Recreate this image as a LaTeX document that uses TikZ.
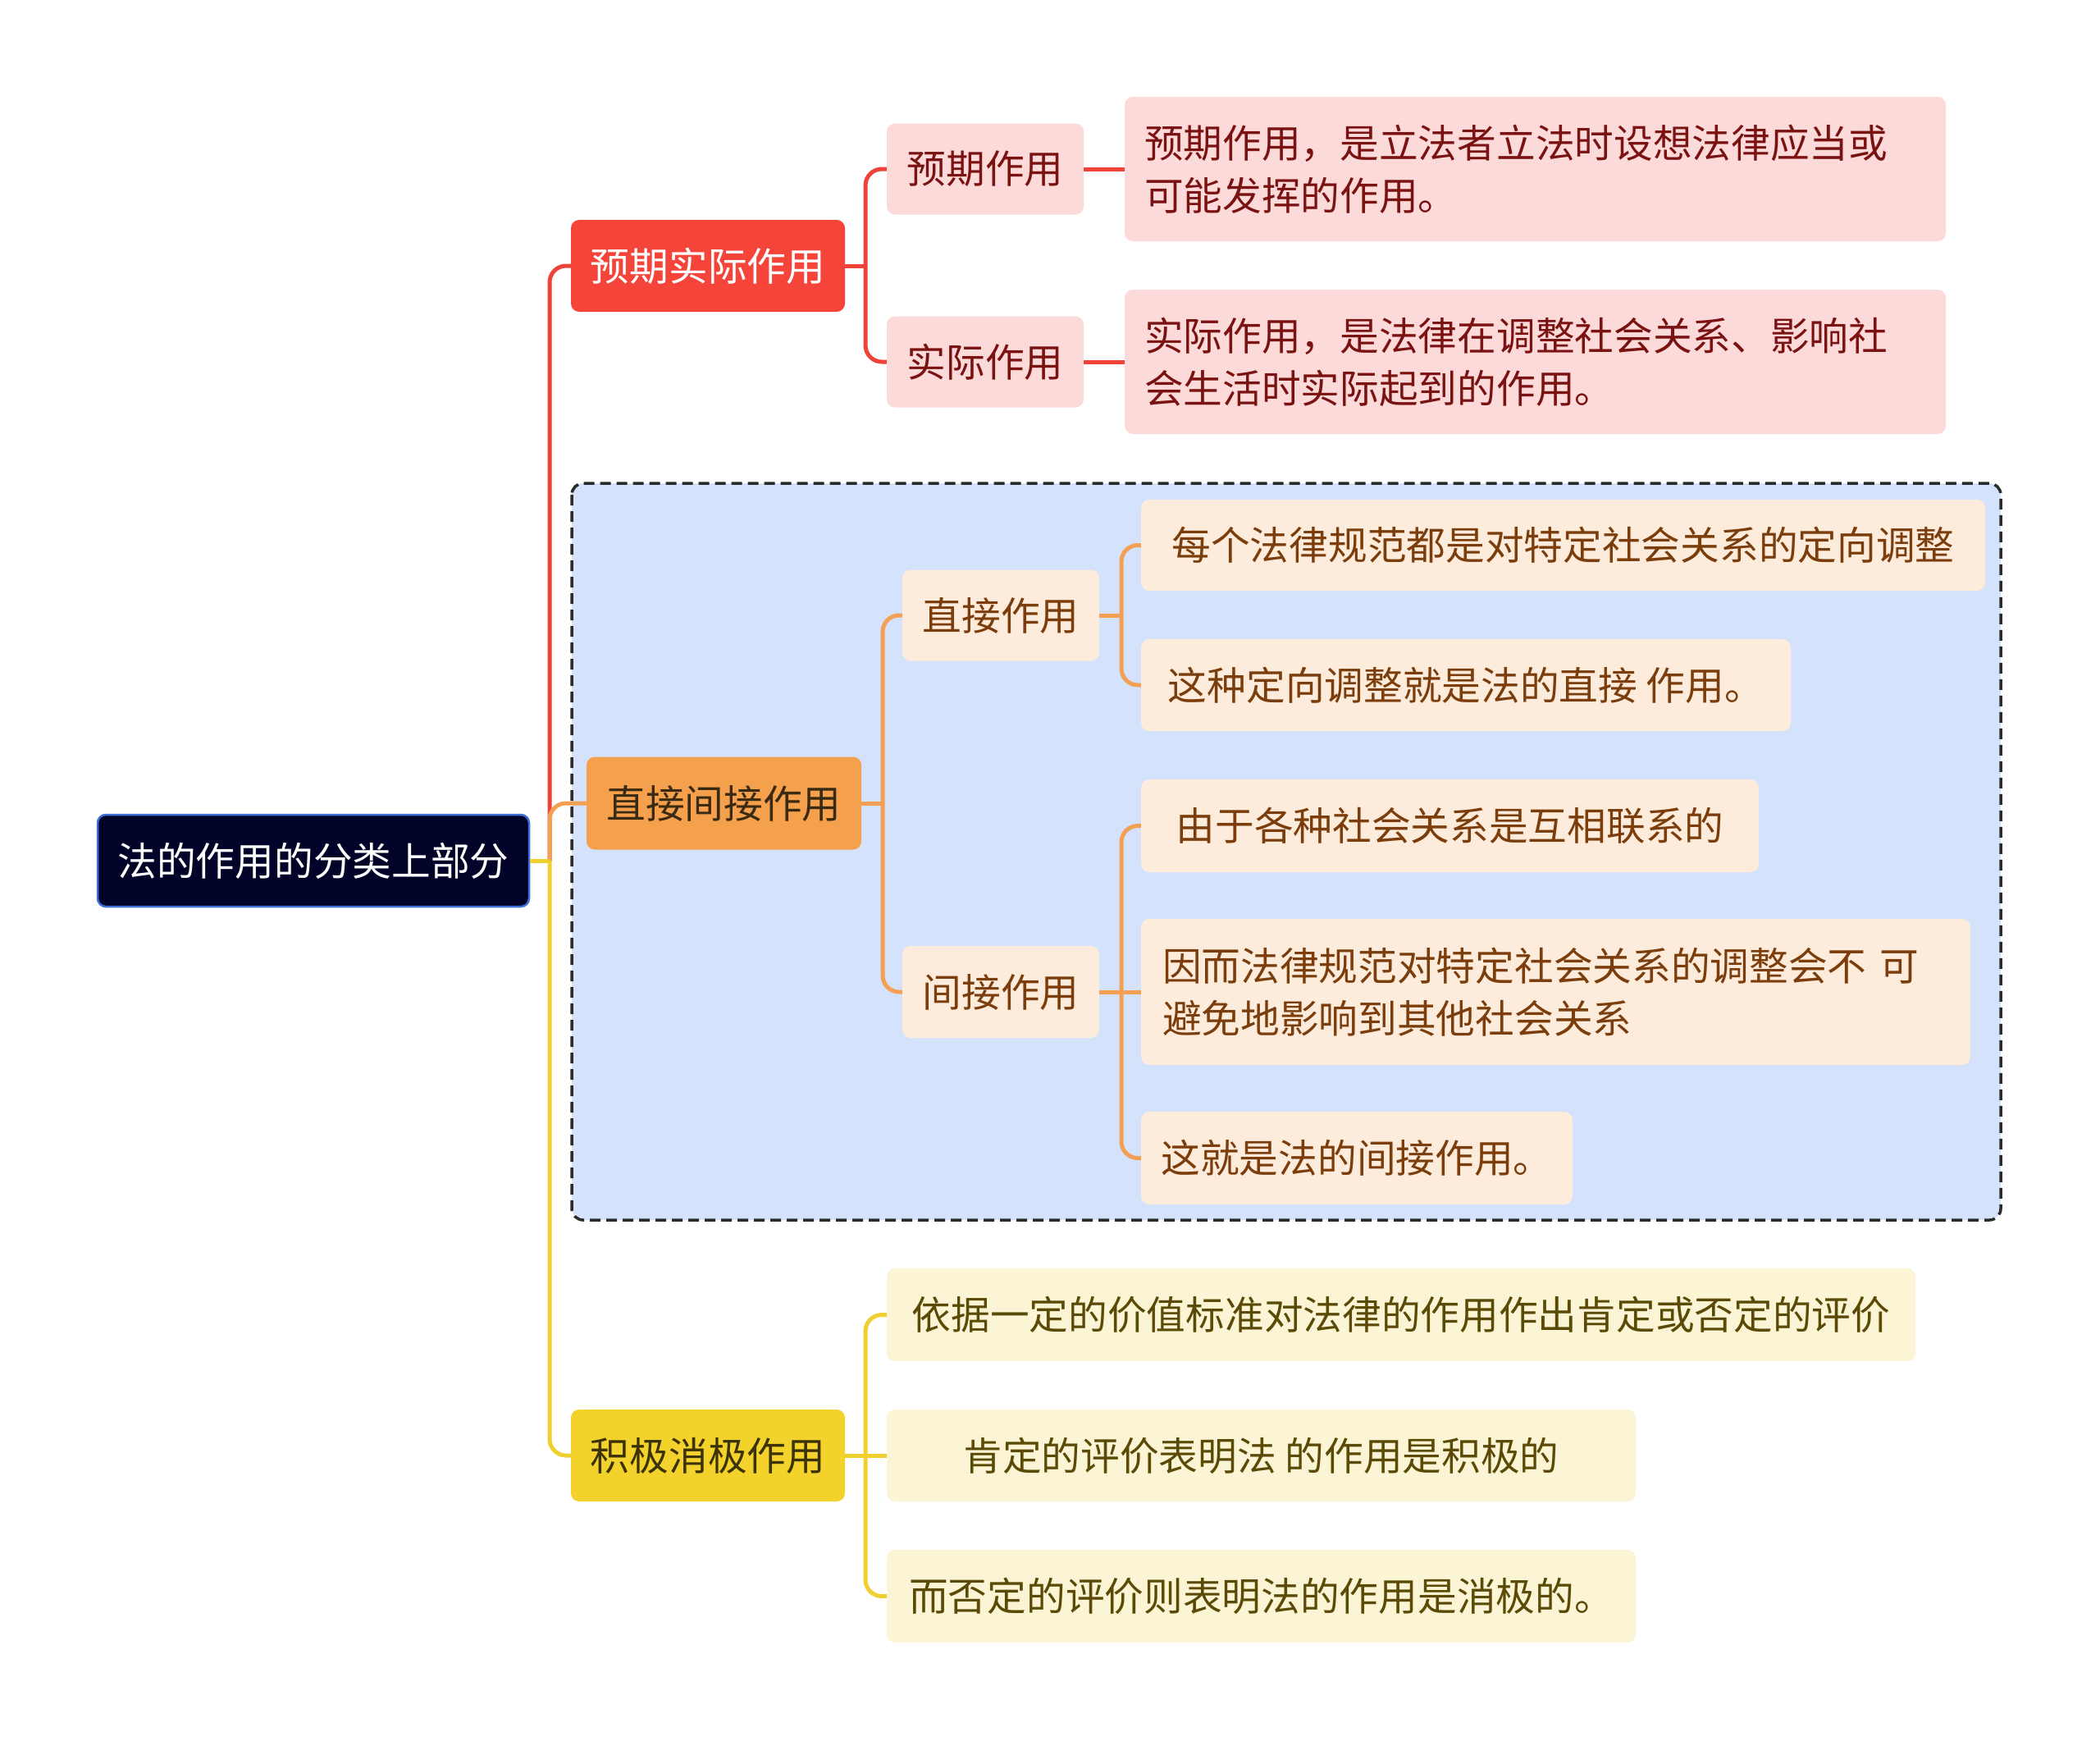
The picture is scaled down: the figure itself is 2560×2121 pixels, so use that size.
\documentclass[tikz,border=0pt]{standalone}
\usepackage{fontspec}
\setmainfont{Noto Sans CJK SC}
\definecolor{rootfill}{HTML}{020329}
\definecolor{rootborder}{HTML}{3F6FD8}
\definecolor{redn}{HTML}{F5453B}
\definecolor{redl}{HTML}{EF4238}
\definecolor{pinkf}{HTML}{FDDADA}
\definecolor{redt}{HTML}{7A1212}
\definecolor{orangen}{HTML}{F5A04C}
\definecolor{orangel}{HTML}{F3A055}
\definecolor{orangedark}{HTML}{3A2A12}
\definecolor{peachf}{HTML}{FDEBDB}
\definecolor{brownt}{HTML}{7B3D0B}
\definecolor{bluebox}{HTML}{D4E3FB}
\definecolor{boxborder}{HTML}{2B2B2B}
\definecolor{yellown}{HTML}{F2D22B}
\definecolor{yellowl}{HTML}{F0D030}
\definecolor{creamf}{HTML}{FBF5D5}
\definecolor{olivet}{HTML}{5A4A05}
\definecolor{yellowdark}{HTML}{3D3205}
\tikzset{
  base/.style={rectangle, rounded corners=10pt, inner sep=0pt, font=\fontsize{47.7}{64}\selectfont},
  rootbox/.style={base, fill=rootfill, draw=rootborder, line width=2.5pt, text=white},
  redbox/.style={base, fill=redn, text=white},
  orangebox/.style={base, fill=orangen, text=orangedark},
  yellowbox/.style={base, fill=yellown, text=yellowdark},
  pinkbox/.style={base, fill=pinkf, text=redt},
  peachbox/.style={base, fill=peachf, text=brownt},
  creambox/.style={base, fill=creamf, text=olivet},
  rline/.style={draw=redl, line width=5pt, rounded corners=20pt},
  oline/.style={draw=orangel, line width=5pt, rounded corners=20pt},
  yline/.style={draw=yellowl, line width=5pt, rounded corners=20pt},
}
\begin{document}
\begin{tikzpicture}[x=1pt,y=-1pt]
\useasboundingbox (0,0) rectangle (2560,2121);
\fill[white] (0,0) rectangle (2560,2121);

% dashed group box
\draw[fill=bluebox, draw=boxborder, line width=3.5pt, dash pattern=on 13pt off 7pt, rounded corners=14pt] (697,589) rectangle (2439,1487);

% root
\node[rootbox, minimum width=526, minimum height=112] (root) at (382,1049) {法的作用的分类上部分};

% level 1
\node[redbox, minimum width=334, minimum height=112] (l1r) at (863,324) {预期实际作用};
\node[orangebox, minimum width=335, minimum height=113] (l1o) at (882.5,979) {直接间接作用};
\node[yellowbox, minimum width=334, minimum height=112] (l1y) at (863,1774) {积极消极作用};

% red branch
\node[pinkbox, minimum width=240, minimum height=111] (r2a) at (1201,206) {预期作用};
\node[pinkbox, minimum width=240, minimum height=111] (r2b) at (1201,441) {实际作用};
\node[pinkbox, minimum height=176, text width=953pt, inner xsep=24pt, align=left] (ra) at (1871.5,206) {预期作用，是立法者立法时设想法律应当或\\可能发挥的作用。};
\node[pinkbox, minimum height=176, text width=953pt, inner xsep=24pt, align=left] (rb) at (1871.5,441) {实际作用，是法律在调整社会关系、影响社\\会生活时实际起到的作用。};

% orange branch
\node[peachbox, minimum width=240, minimum height=111] (o2a) at (1220,750) {直接作用};
\node[peachbox, minimum width=240, minimum height=112] (o2b) at (1220,1209) {间接作用};
\node[peachbox, minimum width=1029, minimum height=111] (oa1) at (1905.5,664.5) {每个法律规范都是对特定社会关系的定向调整};
\node[peachbox, minimum width=792, minimum height=112] (oa2) at (1787,835) {这种定向调整就是法的直接 作用。};
\node[peachbox, minimum width=753, minimum height=113] (ob1) at (1767.5,1006.5) {由于各种社会关系是互相联系的};
\node[peachbox, minimum height=178, text width=959pt, inner xsep=26pt, align=left] (ob2) at (1896.5,1209) {因而法律规范对特定社会关系的调整会不 可\\避免地影响到其他社会关系};
\node[peachbox, minimum width=526, minimum height=113] (ob3) at (1654,1411.5) {这就是法的间接作用。};

% yellow branch
\node[creambox, minimum width=1254, minimum height=113] (ya) at (1708,1602.5) {依据一定的价值标准对法律的作用作出肯定或否定的评价};
\node[creambox, minimum width=913, minimum height=112] (yb) at (1537.5,1774) {肯定的评价表明法 的作用是积极的};
\node[creambox, minimum width=913, minimum height=113] (yc) at (1537.5,1945.5) {而否定的评价则表明法的作用是消极的。};

% junction coordinates
\coordinate (j0) at (670,1049);
\coordinate (jr) at (1055,324);
\coordinate (jo) at (1076,979);
\coordinate (jd) at (1367,750);
\coordinate (ji) at (1367,1209);
\coordinate (jy) at (1055,1774);

% root connectors
\draw[rline] (j0) |- (l1r.west);
\draw[oline] (j0) |- (l1o.west);
\draw[yline] (j0) |- (l1y.west);
\draw[yline] (root.east) -- (j0);

% red connectors
\draw[rline] (l1r.east) -- (jr);
\draw[rline] (jr) |- (r2a.west);
\draw[rline] (jr) |- (r2b.west);
\draw[rline] (r2a.east) -- (ra.west);
\draw[rline] (r2b.east) -- (rb.west);

% orange connectors
\draw[oline] (l1o.east) -- (jo);
\draw[oline] (jo) |- (o2a.west);
\draw[oline] (jo) |- (o2b.west);
\draw[oline] (o2a.east) -- (jd);
\draw[oline] (jd) |- (oa1.west);
\draw[oline] (jd) |- (oa2.west);
\draw[oline] (o2b.east) -- (ji);
\draw[oline] (ji) |- (ob1.west);
\draw[oline] (ji) -- (ob2.west);
\draw[oline] (ji) |- (ob3.west);

% yellow connectors
\draw[yline] (l1y.east) -- (jy);
\draw[yline] (jy) |- (ya.west);
\draw[yline] (jy) -- (yb.west);
\draw[yline] (jy) |- (yc.west);
\end{tikzpicture}
\end{document}
